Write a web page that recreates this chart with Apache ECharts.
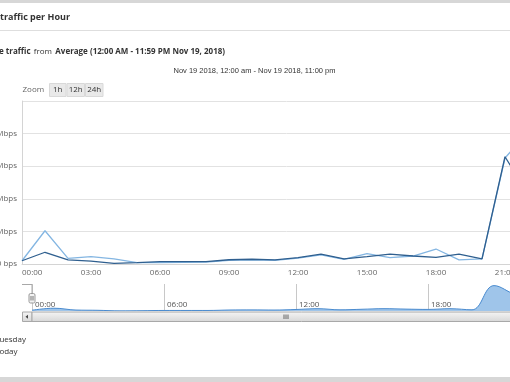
<!DOCTYPE html>
<html><head><meta charset="utf-8">
<script src="https://cdn.jsdelivr.net/npm/echarts@6/dist/echarts.min.js"></script>
<style>
html,body{margin:0;padding:0;width:510px;height:382px;overflow:hidden;background:#fff}
#c{position:absolute;left:-60px;top:0;width:630px;height:382px}
</style>
</head><body><div id="c"></div>
<script>
// ---- data ----
const hours = ['00:00','01:00','02:00','03:00','04:00','05:00','06:00','07:00','08:00','09:00','10:00','11:00',
               '12:00','13:00','14:00','15:00','16:00','17:00','18:00','19:00','20:00','21:00','22:00','23:00'];
const tuesday = [0.20,0.72,0.25,0.18,0.04,0.08,0.14,0.14,0.14,0.26,0.29,0.25,0.39,0.60,0.31,0.45,0.60,0.49,0.41,0.60,0.31,6.58,4.30,3.80];
const today   = [0.20,2.04,0.35,0.45,0.31,0.08,0.08,0.10,0.12,0.22,0.26,0.22,0.36,0.56,0.28,0.63,0.39,0.49,0.92,0.25,0.31,6.50,8.10,7.20];
const yMax = 10, yStep = 2;               // Mbps
const zoomButtons = ['1h','12h','24h'];
const panelTitle = 'traffic per Hour';
const dateRange = 'Nov 19 2018, 12:00 am - Nov 19 2018, 11:00 pm';

// ---- chart ----
const OX = 60;                    // container is shifted left by this much
const F = '"Open Sans", sans-serif';
const chart = echarts.init(document.getElementById('c'), null, {renderer:'canvas'});

const btnX = [49, 66.5, 85, 103.5];
const graphics = [
  {type:'rect', shape:{x:0,y:0,width:630,height:3}, style:{fill:'#d7d7d7'}},
  {type:'rect', shape:{x:0,y:377,width:630,height:5}, style:{fill:'#d7d7d7'}},
  {type:'text', x:OX+0, y:17.5, style:{text:panelTitle, fontFamily:F, fontSize:9, fontWeight:'bold', fill:'#333', verticalAlign:'middle'}},
  {type:'line', shape:{x1:0,y1:30.5,x2:630,y2:30.5}, style:{stroke:'#dedede', lineWidth:1}},
  {type:'text', x:OX-1, y:51.5, style:{
     text:'{b|e traffic} {n|from} {b|Average (12:00 AM - 11:59 PM Nov 19, 2018)}',
     verticalAlign:'middle',
     rich:{b:{fontFamily:F, fontSize:8, fontWeight:'bold', fill:'#333'}, n:{fontFamily:F, fontSize:8, fill:'#333'}}}},
  {type:'text', x:OX+254.5, y:71, style:{text:dateRange, fontFamily:'"Liberation Sans", Arial, sans-serif', fontSize:7.5, fill:'#333', align:'center', verticalAlign:'middle'}},
  {type:'text', x:OX+22.5, y:90, style:{text:'Zoom', fontFamily:F, fontSize:8, fill:'#666', verticalAlign:'middle'}}
];
zoomButtons.forEach((b,i)=>{
  graphics.push({type:'rect', shape:{x:OX+btnX[i]+0.5, y:83.5, width:btnX[i+1]-btnX[i]-1, height:13},
                 style:{fill:'#e9e9e9', stroke:'#d9d9d9', lineWidth:1}});
  graphics.push({type:'text', x:OX+(btnX[i]+btnX[i+1])/2, y:90, style:{text:b, fontFamily:F, fontSize:8, fill:'#333', align:'center', verticalAlign:'middle'}});
});
// navigator outline + handle
graphics.push(
  {type:'polyline', z:100, shape:{points:[[OX+22,284.5],[OX+32,284.5],[OX+32,293]]}, style:{stroke:'#a8a8a8', lineWidth:1, fill:null}},
  {type:'rect', z:100, shape:{x:OX+29, y:293.5, width:6, height:9.5, r:1.5}, style:{fill:'#f2f2f2', stroke:'#999', lineWidth:1}},
  {type:'line', z:101, shape:{x1:OX+31,y1:296,x2:OX+31,y2:300.5}, style:{stroke:'#777', lineWidth:1}},
  {type:'line', z:101, shape:{x1:OX+33,y1:296,x2:OX+33,y2:300.5}, style:{stroke:'#777', lineWidth:1}}
);
// scrollbar
const grad = new echarts.graphic.LinearGradient(0,0,0,1,[{offset:0,color:'#f6f6f6'},{offset:1,color:'#d6d6d6'}]);
graphics.push(
  {type:'rect', z:100, shape:{x:OX+22.5, y:312, width:9.5, height:9.5}, style:{fill:grad, stroke:'#a8a8a8', lineWidth:1}},
  {type:'polygon', z:101, shape:{points:[[OX+25.5,316.8],[OX+28,314.8],[OX+28,318.8]]}, style:{fill:'#444'}},
  {type:'rect', z:100, shape:{x:OX+32, y:312, width:600, height:9.5}, style:{fill:grad, stroke:'#a8a8a8', lineWidth:1}},
  {type:'line', z:101, shape:{x1:OX+284,y1:314.5,x2:OX+284,y2:319}, style:{stroke:'#666', lineWidth:1}},
  {type:'line', z:101, shape:{x1:OX+286,y1:314.5,x2:OX+286,y2:319}, style:{stroke:'#666', lineWidth:1}},
  {type:'line', z:101, shape:{x1:OX+288,y1:314.5,x2:OX+288,y2:319}, style:{stroke:'#666', lineWidth:1}}
);

chart.setOption({
  animation:false,
  textStyle:{fontFamily:F},
  graphic:graphics,
  legend:{
    data:['Tuesday','Today'], orient:'vertical', left:OX-29, top:329,
    itemWidth:14, itemHeight:6, itemGap:0, icon:'rect',
    textStyle:{fontFamily:F, fontSize:8, color:'#333', lineHeight:12}
  },
  grid:[
    {left:OX+22, right:19, top:101, bottom:118},
    {left:OX+32, right:32, top:284, bottom:71}
  ],
  xAxis:[
    {type:'category', gridIndex:0, data:hours, boundaryGap:false,
     axisLine:{lineStyle:{color:'#d4d4d4'}}, axisTick:{show:false},
     axisLabel:{interval:2, color:'#666', fontSize:8, margin:5, alignMinLabel:'left'},
     splitLine:{show:false}},
    {type:'category', gridIndex:1, data:hours, boundaryGap:false,
     axisLine:{show:false}, axisTick:{show:false},
     axisLabel:{interval:5, inside:true, align:'left', color:'#555', fontSize:8, margin:2, padding:[0,0,0,3]},
     splitLine:{show:true, interval:5, lineStyle:{color:'#c8c8c8'}}}
  ],
  yAxis:[
    {type:'value', gridIndex:0, min:0, max:yMax, interval:yStep,
     axisLine:{show:true, lineStyle:{color:'#d4d4d4'}}, axisTick:{show:false},
     axisLabel:{formatter:v=>v===0?'0 bps':v+' Mbps', color:'#666', fontSize:8, margin:5, showMaxLabel:false},
     splitLine:{lineStyle:{color:'#e2e2e2'}}},
    {type:'value', gridIndex:1, min:0, max:7, show:false, splitLine:{show:false}}
  ],
  series:[
    {name:'Tuesday', type:'line', xAxisIndex:0, yAxisIndex:0, data:tuesday, symbol:'none',
     lineStyle:{color:'#2f5f8f', width:1.3}, itemStyle:{color:'#2f5f8f'}, z:3},
    {name:'Today', type:'line', xAxisIndex:0, yAxisIndex:0, data:today, symbol:'none',
     lineStyle:{color:'#84b6e2', width:1.3}, itemStyle:{color:'#84b6e2'}, z:2},
    {name:'navigator', type:'line', xAxisIndex:1, yAxisIndex:1, data:tuesday, symbol:'none', smooth:0.4,
     lineStyle:{color:'#4a8bcf', width:1}, areaStyle:{color:'#9fc5ea', opacity:1}, z:1, silent:true}
  ]
});
</script>
</body></html>
